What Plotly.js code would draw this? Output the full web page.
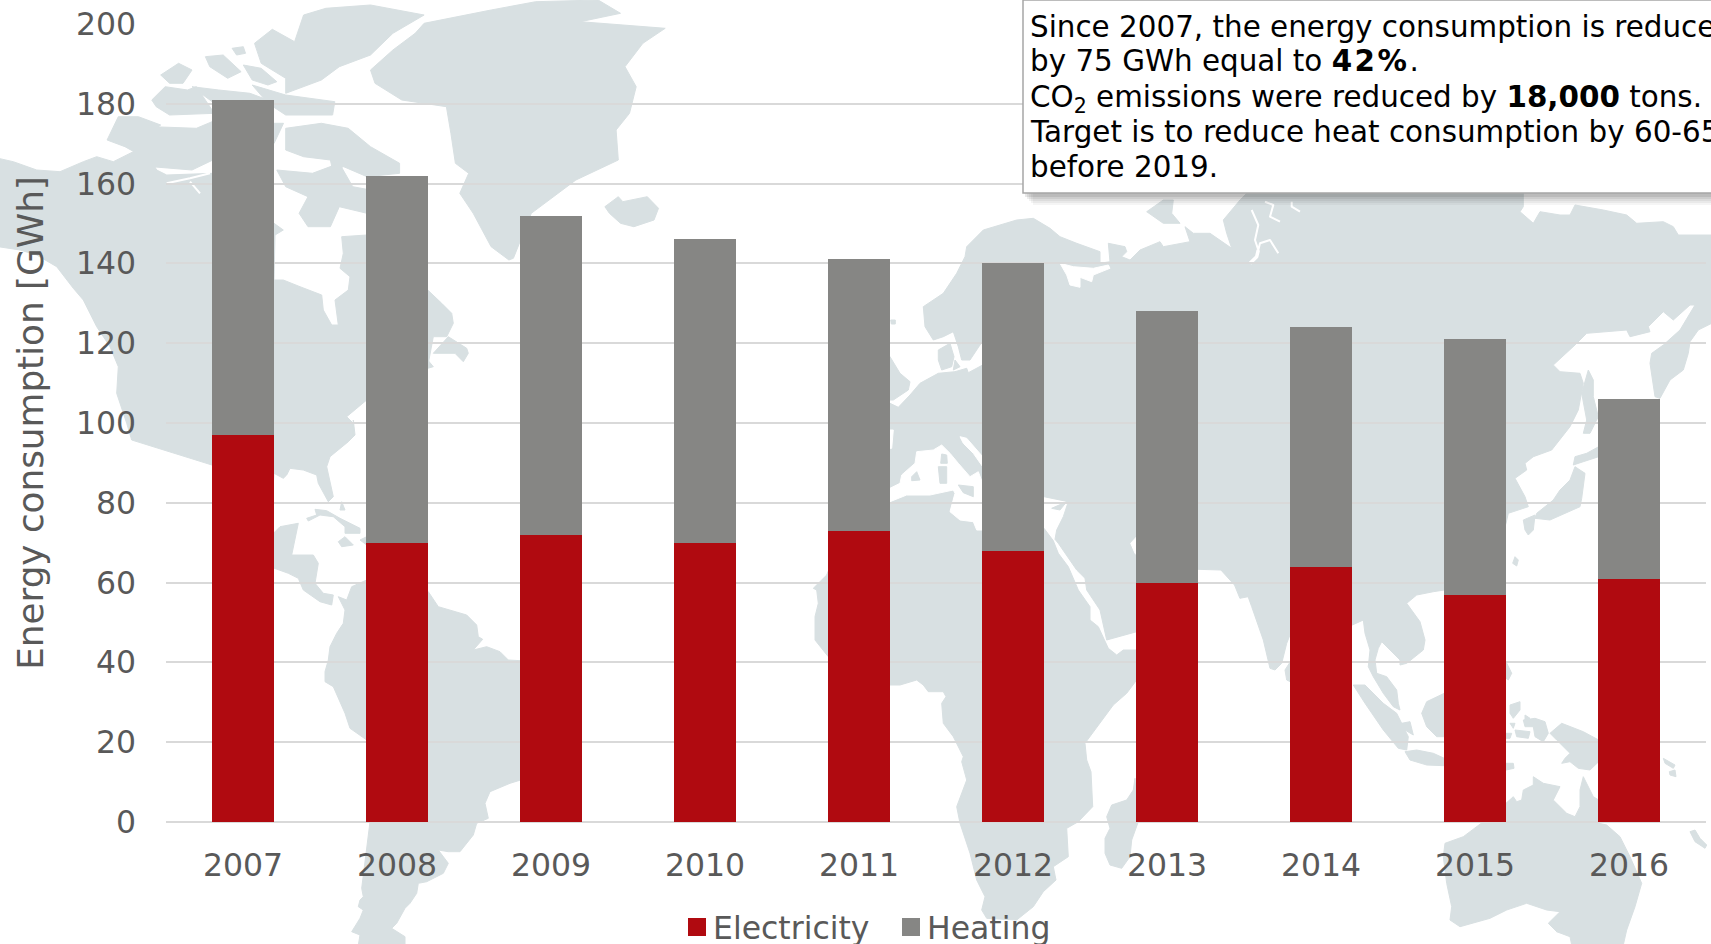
<!DOCTYPE html>
<html>
<head>
<meta charset="utf-8">
<script src="https://cdn.plot.ly/plotly-3.0.1.min.js"></script>
<style>html,body{margin:0;padding:0;background:#fff;overflow:hidden}#chart{width:1711px;height:944px}</style>
</head>
<body>
<div id="chart"></div>
<script>
const years = ['2007','2008','2009','2010','2011','2012','2013','2014','2015','2016'];
const electricity = [97,70,72,70,73,68,60,64,57,61];
const heating = [84,92,80,76,68,72,68,60,64,45];
const yTicks = [0,20,40,60,80,100,120,140,160,180,200];

const W=1711,H=944,ML=166,MR=5,MT=24,MB=122;
const PW=W-ML-MR,PH=H-MT-MB;
const TXT='#595959',FONT='"DejaVu Sans", Verdana, sans-serif';

/* background world map: decorative outline, traced in crop coordinates */
const crop={z2:[0,0,2.24,3],z4:[860,470,1.8425,3],z6:[270,420,3,3],z7:[0,140,3,3],z8:[810,200,3,3],z9:[1250,190,3,3],z10:[1250,590,3,3],z11:[810,590,3,3]};
function seg(z,s){const c=crop[z];return s.trim().split(/\s+/).map(p=>{const a=p.split(',');return (c[0]+a[0]/c[2]).toFixed(1)+','+(c[1]+a[1]/c[3]).toFixed(1);}).join(' ');}
const LAND='#d8e0e2';
function poly(parts,fill){return '<polygon fill="'+fill+'" stroke="'+fill+'" stroke-width="1" stroke-linejoin="round" points="'+parts.map(p=>seg(p[0],p[1])).join(' ')+'"/>';}
function line(z,s,w){return '<polyline fill="none" stroke="#fff" stroke-width="'+w+'" stroke-linejoin="round" points="'+seg(z,s)+'"/>';}
const land=[
 [['z2','830,210 880,150 930,100 950,70 1100,30 1200,5 1340,0 1390,40 1300,65 1490,85 1440,130 1400,200 1425,260 1410,340 1380,390 1385,480 1290,540 1230,600 1190,640 1150,775 1140,780 1100,740 1060,640 1030,580 1050,520 1020,490 1010,400 1000,320 900,300 840,250']],
 [['z2','1355,620 1385,590 1395,605 1450,590 1475,625 1465,660 1420,680 1390,670 1365,640']],
 [['z2','570,130 610,88 660,125 680,45 730,25 830,15 950,45 880,100 830,165 760,200 720,240 640,280 640,235 585,190']],
 [['z2','460,170 500,165 540,215 510,235 470,200']],
 [['z2','545,195 585,205 620,245 600,255 565,240']],
 [['z2','520,145 545,140 550,160 530,165']],
 [['z2','565,255 640,285 750,305 745,345 640,345 600,310']],
 [['z2','360,225 400,190 430,210 410,250 380,250']],
 [['z2','340,300 370,260 420,270 440,260 480,340 380,345 350,320']],
 [['z2','430,260 490,270 560,280 600,300 480,310']],
 [['z2','240,420 265,350 310,350 360,375 315,420 340,380 440,385 475,365 477,480 430,510 340,500 320,470 280,440']],
 [['z2','614,370 635,370 614,430']],
 [['z2','640,385 720,370 780,385 830,440 895,490 895,520 822,530 770,500 745,510 740,480 680,470 640,450']],
 [['z2','620,510 700,520 760,490 790,560 830,570 822,640 760,620 740,680 690,680 670,640 690,590 640,560']],
 [['z7','-5,55 40,65 110,90 180,95 250,65 290,50 340,65 410,30 440,25 450,55 470,90 500,105 640,100 822,250 850,270 825,285 822,420 850,420 900,440 965,465 970,510 995,555 1015,555 1005,480 1045,450 1050,410 1020,385 1030,340 1025,290 1100,285 1283,450 1325,490 1355,520 1360,550 1340,590 1300,590 1283,680 1100,780 1040,830 1060,850 1060,890'],
  ['z6','250,0 255,45 235,65 180,110 170,140 190,230 175,245 145,190 140,165 100,150 60,145 50,165 40,175 12,160 0,350 30,320 85,310 65,405 130,405 145,430 135,490 160,520 190,525 185,555 150,545 100,510 85,475 55,460 0,440 -10,300 -30,180'],
  ['z7','395,900 380,850 350,760 355,680 330,620 290,560 250,480 220,445 170,380 110,345 60,330 -5,320']],
 [['z7','1345,590 1400,625 1405,640 1390,665 1365,640 1300,640']],
 [['z7','1283,660 1300,680 1283,685']],
 [['z6','110,295 140,285 135,268 170,272 210,295 270,325 270,340 225,340 225,320 190,290 150,285 115,303']],
 [['z6','205,365 225,350 250,375 215,380']],
 [['z6','215,245 225,270 210,270']],
 [['z6','270,360 290,350 290,375']],
 [['z6','245,500 290,480 475,515 505,560 590,585 620,615 625,650 638,658 610,690 650,680 690,695 715,720 752,722 752,1080 720,1090 660,1115 645,1150 655,1195 620,1210 610,1245 570,1295 535,1295 505,1290 535,1330 520,1360 470,1385 445,1390 440,1420 420,1450 405,1465 380,1510 365,1525 405,1550 405,1575 265,1575 270,1545 245,1535 270,1495 280,1470 265,1460 270,1440 280,1430 275,1405 300,1205 290,960 240,925 225,880 190,800 165,785 165,755 175,720 180,680 200,640 220,610 225,570 205,530 230,540']],
 [['z8','150,620 240,610 265,622 300,585 330,550 385,520 435,515 470,505 475,518 518,495 520,420 480,480 455,480 445,440 430,395 400,410 370,420 345,380 340,320 400,280 440,220 465,170 470,140 520,90 620,60 670,55 720,85 750,110 800,130 870,155 870,190 900,185 895,130 945,140 950,155 935,170 960,180 990,150 1050,125 1060,140 1140,125 1125,80 1150,100 1200,100 1265,145 1250,100 1240,60 1290,0'],
  ['z9','0,0 820,0 820,50 810,65 850,100 870,65 930,75 960,75 975,45 1060,60 1130,75 1160,100 1240,95 1270,110 1285,135 1385,135 1385,400 1345,420 1320,455 1315,490 1300,540 1260,570 1230,625 1215,620 1200,520 1205,490 1240,465 1290,420 1335,345 1320,345 1270,390 1240,365 1195,410 1200,425 1140,440 1130,420 1010,430 975,465 910,525 930,545 990,550 1000,580 985,660 960,710 905,780 850,800 825,820 830,840 795,865 825,920 835,950 775,970 768,1000 700,1200'],
  ['z10','583,0 550,5 500,15 470,40 510,95 525,150 520,180 470,220 450,225 450,210 420,180 395,155 385,175 375,210 380,250 410,260 440,300 445,340 450,360 430,350 400,310 370,260 355,230 360,180 345,130 340,90 307,105 130,110 110,160 95,220 75,240 60,235 40,150 5,50'],
  ['z4','715,380 700,385 690,345 665,300 623,298'],
  ['z11','980,125 890,150 870,60 830,0'],
  ['z8','825,1135 800,1110 745,1030 735,1018 740,990 760,950 775,905 702,890 518,880 240,900 150,880']],
 [['z8','100,1000 240,905 290,885 360,885 430,870 435,880 420,935 450,960 490,965 500,990 518,990 702,985 730,1022 745,1060 775,1100 805,1170'],
  ['z11','840,50 840,90 865,110 895,175 920,195 940,180 980,180 980,270 950,310 910,345 825,460 830,510 843,545 848,650 805,695 770,715 775,800 730,830 738,870 700,905 670,950 620,990 530,985 515,960 525,920 500,870 480,790 450,700 440,650 470,570 455,515 460,500 430,440 400,400 395,340 408,320 400,305 355,305 340,285 320,270 270,285 240,285 55,200 15,150 15,80 25,40 20,0'],
  ['z8','10,1165 50,1125']],
 [['z11','975,565 970,600 950,630 905,645 890,680 900,715 885,745 885,790 900,825 935,835 960,800 965,750 985,695']],
 [['z10','768,640 790,620 800,635 815,630 820,600 850,585 850,560 880,580 930,590 910,630 950,670 975,680 990,650 990,600 1000,560 1030,620 1046,630 1046,700 1070,705 1110,740 1140,800 1175,880 1155,950 1130,1020 1120,1065 965,1065 960,1040 920,1025 895,1000 930,965 890,960 830,940 770,960 720,985 630,1010 600,990 605,950 590,880 580,800 585,760 640,740 700,695 768,660']],
 [['z10','915,1015 940,1010 935,1025 920,1025']],
 [['z10','121,215 105,240 110,270 121,275']],
 [['z10','310,285 345,285 400,340 440,370 475,440 470,480 445,475 400,420 345,340']],
 [['z10','455,400 480,395 490,435 465,420']],
 [['z10','465,485 500,480 550,490 583,505 583,527 530,525 480,510']],
 [['z10','583,310 530,335 515,370 530,410 560,440 583,440']],
 [['z10','768,215 785,250 775,270 768,265']],
 [['z10','780,345 810,335 810,360 790,385 780,370']],
 [['z10','825,375 840,385 825,395']],
 [['z10','820,390 855,385 885,395 895,430 880,455 855,440 850,410 825,410']],
 [['z10','780,400 795,400 790,415']],
 [['z10','795,420 840,425 835,445 800,440']],
 [['z10','768,430 785,430 780,445 768,445']],
 [['z10','768,520 790,520 792,535 768,540']],
 [['z10','900,430 935,400 1000,425 1046,450 1046,515 1020,540 985,535 960,515 935,520 945,505 960,490 920,450']],
 [['z10','1240,505 1275,525 1270,535 1245,520']],
 [['z10','1258,545 1275,540 1278,560 1260,555']],
 [['z10','1320,725 1335,720 1350,745 1370,765 1365,775 1335,755']],
 [['z9','1015,540 1030,570 1030,620 1045,680 1020,730 1000,730 1010,690 995,610']],
 [['z9','1046,770 1010,790 975,800 970,825 1000,815 1046,800']],
 [['z9','975,830 1005,850 995,925 990,950 900,990 855,985 860,970 910,930 930,900 960,870']],
 [['z9','820,990 855,975 850,1020 835,1035 825,1020']],
 [['z9','795,1100 805,1110 800,1128 788,1120']],
 [['z8','1010,35 1060,0 1090,0 1085,40 1110,70 1060,70']]
];
const seas=[
 [['z8','240,865 270,850 275,825 315,790 320,755 370,750 395,735 420,760 445,790 480,830 505,815 518,850 518,990 500,990 490,965 450,960 420,935 435,880 430,870 360,885 290,885 240,905']],
 [['z8','450,710 470,715 518,770 518,800 490,760 460,730']],
 [['z8','240,690 250,690 245,745 240,745']],
 [['z8','750,190 790,200 850,205 895,195 900,205 850,225 845,245 810,232 810,262 780,255 770,225']],
 [['z8','980,1010 962,1030 975,1060 980,1065']]
];
const islets=[
 [['z8','395,762 410,765 412,790 392,790']],[['z8','385,800 410,800 410,850 390,850']],
 [['z8','305,830 320,815 330,840 305,842']],[['z8','445,855 490,860 490,890 460,878']],
 [['z8','385,450 420,430 432,470 425,500 395,510 385,480']],[['z8','435,480 450,500 430,510']],
 [['z8','240,470 270,520 300,545 295,570 250,600 240,600']],[['z8','242,360 256,360 256,372 244,372']],
 [['z8','725,925 770,905 750,930']]
];
const rivers=[
 line('z9','5,60 25,105 15,150 25,180 30,160 60,150 85,190',2),
 line('z9','25,180 20,200 0,220',3.5),
 line('z9','45,35 70,45 60,80 90,95',2),
 line('z9','125,35 125,50 150,65',2),
 line('z7','500,130 570,115 630,100',2),
 line('z7','570,125 600,160',2)
];
const mapSvg='<svg xmlns="http://www.w3.org/2000/svg" width="'+W+'" height="'+H+'" viewBox="0 0 '+W+' '+H+'">'
 +land.map(p=>poly(p,LAND)).join('')
 +seas.map(p=>poly(p,'#fff')).join('')
 +islets.map(p=>poly(p,LAND)).join('')
 +rivers.join('')+'</svg>';

const px=x=>(x-ML)/PW, py=y=>1-(y-MT)/PH;
const boxL=1023,boxB=193;
const shapes=[];
[[12,.05],[10,.06],[8,.07],[6,.09],[4,.11]].forEach(s=>{
 shapes.push({type:'rect',xref:'paper',yref:'paper',layer:'above',x0:px(boxL+s[0]-2),x1:px(W+20),y0:py(boxB+s[0]),y1:py(0),line:{width:0},fillcolor:'rgba(50,50,50,'+s[1]+')'});
});
shapes.push({type:'rect',xref:'paper',yref:'paper',layer:'above',x0:px(boxL),x1:px(W+20),y0:py(boxB),y1:py(0),line:{color:'#a6a6a6',width:1.5},fillcolor:'#ffffff'});

const noteLines=[
 ['Since 2007, the energy consumption is reduced',9],
 ['by 75 GWh equal to <span style="font-weight:bold;letter-spacing:2.5px">42%</span>.',43],
 ['CO<sub>2</sub> emissions were reduced by <b>18,000</b> tons.',79],
 ['Target is to reduce heat consumption by 60-65%',114],
 ['before 2019.',149]
];

const traces=[
 {type:'bar',name:'Electricity',x:years,y:electricity,marker:{color:'#b00a10'},hoverinfo:'x+y+name'},
 {type:'bar',name:'Heating',x:years,y:heating,marker:{color:'#868684'},hoverinfo:'x+y+name'}
];
const layout={
 width:W,height:H,autosize:false,
 margin:{l:ML,r:MR,t:MT,b:MB,pad:0},
 paper_bgcolor:'#fff',plot_bgcolor:'rgba(0,0,0,0)',
 barmode:'stack',bargap:0.6,
 font:{family:FONT,size:30,color:TXT},
 showlegend:true,
 legend:{orientation:'h',xref:'container',yref:'container',x:677/W,xanchor:'left',y:1-900/H,yanchor:'top',traceorder:'normal',font:{size:31.5,color:TXT},bgcolor:'rgba(0,0,0,0)',itemclick:false,itemdoubleclick:false,entrywidth:169,entrywidthmode:'pixels'},
 xaxis:{type:'category',categories:years,tickfont:{size:31.5,color:TXT},ticklabelstandoff:21,ticks:'',showgrid:false,showline:false,zeroline:false,fixedrange:true},
 yaxis:{range:[0,200],tickvals:yTicks,ticktext:yTicks.map(String),tickfont:{size:31.5,color:TXT},ticklabelstandoff:29,ticks:'',gridcolor:'#d9d9d9',gridwidth:2,zeroline:true,zerolinecolor:'#d9d9d9',zerolinewidth:2,showline:false,fixedrange:true,
  title:{text:'Energy consumption [GWh]',font:{size:35.8,color:TXT}}},
 shapes:shapes,
 images:[{source:'data:image/svg+xml;charset=utf-8,'+encodeURIComponent(mapSvg),xref:'paper',yref:'paper',x:-ML/PW,y:1+MT/PH,sizex:W/PW,sizey:H/PH,xanchor:'left',yanchor:'top',sizing:'stretch',layer:'below',opacity:1}],
 annotations:noteLines.map(l=>({xref:'paper',yref:'paper',x:px(1029),y:py(l[1]),xanchor:'left',yanchor:'top',align:'left',showarrow:false,text:l[0],font:{family:FONT,size:29.4,color:'#000'},borderpad:0}))
};
Plotly.newPlot('chart',traces,layout,{displayModeBar:false,responsive:false}).then(gd=>{
 gd.querySelectorAll('.legendbar path, .legendpoints path').forEach(p=>p.setAttribute('d','M9,9H-9V-9H9Z'));
 gd.querySelectorAll('.legendtext').forEach(t=>t.setAttribute('x',(+t.getAttribute('x')-4)));
 const yt=gd.querySelector('.ytitle');
 if(yt){
  const nx=+yt.getAttribute('x')-23,yy=yt.getAttribute('y');
  yt.setAttribute('x',nx);
  yt.setAttribute('transform','rotate(-90,'+nx+','+yy+')');
 }
});
</script>
</body>
</html>
